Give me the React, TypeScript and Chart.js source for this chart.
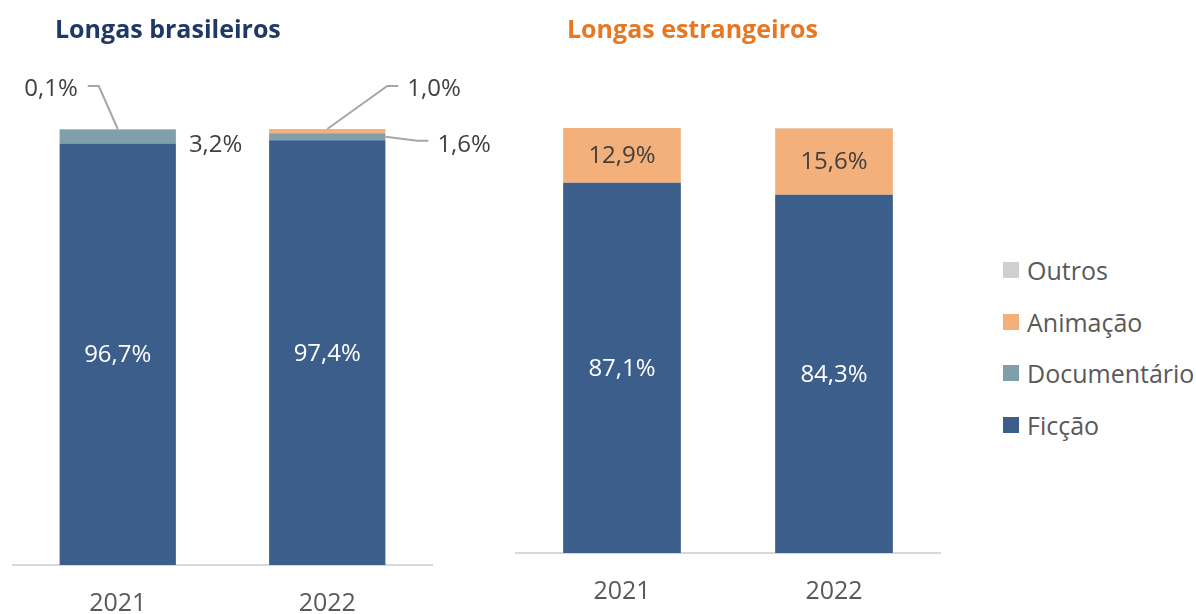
import React, { useEffect, useRef } from "react";
import { Chart, registerables } from "chart.js";

Chart.register(...registerables);

const years = ["2021", "2022"];
const seriesNames = ["Ficção", "Documentário", "Animação", "Outros"];
const seriesColors = ["#3C5E8B", "#7F9FAA", "#F3B07A", "#D0CECE"];

const brFiccao = [96.7, 97.4];
const brDocumentario = [3.2, 1.6];
const brAnimacao = [0.1, 1.0];
const brOutros = [0, 0];

const exFiccao = [87.1, 84.3];
const exDocumentario = [0, 0];
const exAnimacao = [12.9, 15.6];
const exOutros = [0, 0.1];

const FONT = "'Open Sans', 'Noto Sans', sans-serif";

const fmt = (v: number) => v.toFixed(1).replace(".", ",") + "%";

type LabelSpec = {
  ds: number;
  idx: number;
  kind: "inside" | "callout";
  color: string;
  anchor?: "top" | "right";
  line?: [number, number][];
  text?: [number, number];
  align?: CanvasTextAlign;
};

function makeLabelPlugin(specs: LabelSpec[]) {
  return {
    id: "segLabels",
    afterDatasetsDraw(chart: any) {
      const ctx = chart.ctx as CanvasRenderingContext2D;
      ctx.save();
      ctx.font = `24px ${FONT}`;
      for (const s of specs) {
        const meta = chart.getDatasetMeta(s.ds);
        const el = meta.data[s.idx] as any;
        const v = chart.data.datasets[s.ds].data[s.idx] as number;
        const props = el.getProps(["x", "y", "base", "width"], true);
        const top = Math.min(props.y, props.base);
        const bot = Math.max(props.y, props.base);
        if (s.kind === "inside") {
          ctx.fillStyle = s.color;
          ctx.textAlign = "center";
          ctx.textBaseline = "middle";
          ctx.fillText(fmt(v), props.x, (top + bot) / 2 + 1);
        } else {
          let ax = props.x;
          let ay = top;
          if (s.anchor === "right") {
            ax = props.x + props.width / 2;
            ay = (top + bot) / 2;
          }
          if (s.line && s.line.length) {
            ctx.strokeStyle = "#A6A6A6";
            ctx.lineWidth = 2;
            ctx.beginPath();
            ctx.moveTo(ax, ay);
            for (const [dx, dy] of s.line) ctx.lineTo(ax + dx, ay + dy);
            ctx.stroke();
          }
          ctx.fillStyle = s.color;
          ctx.textAlign = s.align || "left";
          ctx.textBaseline = "middle";
          const [tx, ty] = s.text || [0, 0];
          ctx.fillText(fmt(v), ax + tx, ay + ty);
        }
      }
      ctx.restore();
    },
  };
}

function buildConfig(
  values: number[][],
  padding: { left: number; right: number; top: number },
  axisHeight: number,
  specs: LabelSpec[]
) {
  return {
    type: "bar" as const,
    data: {
      labels: years,
      datasets: values.map((vals, i) => ({
        label: seriesNames[i],
        data: vals,
        backgroundColor: seriesColors[i],
        borderWidth: 0,
        barPercentage: 0.555,
        categoryPercentage: 1,
      })),
    },
    options: {
      animation: false as const,
      responsive: true,
      maintainAspectRatio: false,
      layout: { padding: { left: padding.left, right: padding.right, top: padding.top, bottom: 0 } },
      plugins: { legend: { display: false }, tooltip: { enabled: false }, title: { display: false } },
      scales: {
        x: {
          stacked: true,
          grid: { display: false, drawTicks: false },
          border: { display: true, color: "#D9D9D9", width: 2 },
          ticks: { color: "#595959", font: { family: FONT, size: 25 }, padding: 24 },
          afterFit: (scale: any) => {
            scale.height = axisHeight;
          },
        },
        y: {
          stacked: true,
          display: false,
          min: 0,
          max: 100,
        },
      },
    },
    plugins: [makeLabelPlugin(specs)],
  };
}

const leftSpecs: LabelSpec[] = [
  { ds: 0, idx: 0, kind: "inside", color: "#FFFFFF" },
  { ds: 0, idx: 1, kind: "inside", color: "#FFFFFF" },
  { ds: 2, idx: 0, kind: "callout", color: "#404040", anchor: "top", line: [[-19, -43], [-30, -43]], text: [-40, -40], align: "right" },
  { ds: 1, idx: 0, kind: "callout", color: "#404040", anchor: "right", line: [], text: [13, 9], align: "left" },
  { ds: 2, idx: 1, kind: "callout", color: "#404040", anchor: "top", line: [[60, -43], [71, -43]], text: [80, -40], align: "left" },
  { ds: 1, idx: 1, kind: "callout", color: "#404040", anchor: "right", line: [[32, 4], [43, 4]], text: [52, 8], align: "left" },
];

const rightSpecs: LabelSpec[] = [
  { ds: 0, idx: 0, kind: "inside", color: "#FFFFFF" },
  { ds: 0, idx: 1, kind: "inside", color: "#FFFFFF" },
  { ds: 2, idx: 0, kind: "inside", color: "#404040" },
  { ds: 2, idx: 1, kind: "inside", color: "#404040" },
];

function BarPanel(props: { left: number; width: number; cfg: any }) {
  const ref = useRef<HTMLCanvasElement>(null);
  useEffect(() => {
    if (!ref.current) return;
    const chart = new Chart(ref.current, props.cfg);
    return () => chart.destroy();
  }, []);
  return (
    <div style={{ position: "absolute", left: props.left, top: 0, width: props.width, height: 614 }}>
      <canvas ref={ref} />
    </div>
  );
}

export default function App() {
  const leftCfg = buildConfig(
    [brFiccao, brDocumentario, brAnimacao, brOutros],
    { left: 13, right: 510 - 432, top: 129 },
    614 - 565,
    leftSpecs
  );
  const rightCfg = buildConfig(
    [exFiccao, exDocumentario, exAnimacao, exOutros],
    { left: 16, right: 470 - 440, top: 128 },
    614 - 553,
    rightSpecs
  );
  const legendOrder = [3, 2, 1, 0];
  return (
    <div style={{ position: "fixed", left: 0, top: 0, width: 1196, height: 614, background: "#fff", overflow: "hidden", fontFamily: FONT }}>
      <BarPanel left={500} width={470} cfg={rightCfg} />
      <BarPanel left={0} width={510} cfg={leftCfg} />
      <div style={{ position: "absolute", left: 55, top: 10, fontSize: 25, fontWeight: 700, color: "#203864", lineHeight: "36px", whiteSpace: "nowrap" }}>
        Longas brasileiros
      </div>
      <div style={{ position: "absolute", left: 567, top: 10, fontSize: 25, fontWeight: 700, color: "#E87722", lineHeight: "36px", whiteSpace: "nowrap" }}>
        Longas estrangeiros
      </div>
      {legendOrder.map((si, k) => (
        <div key={si} style={{ position: "absolute", left: 1003, top: 270 + k * 51.7 - 17, height: 34, display: "flex", alignItems: "center", whiteSpace: "nowrap" }}>
          <span style={{ display: "inline-block", width: 16, height: 16, background: seriesColors[si], marginRight: 8 }} />
          <span style={{ fontSize: 25, color: "#595959" }}>{seriesNames[si]}</span>
        </div>
      ))}
    </div>
  );
}
